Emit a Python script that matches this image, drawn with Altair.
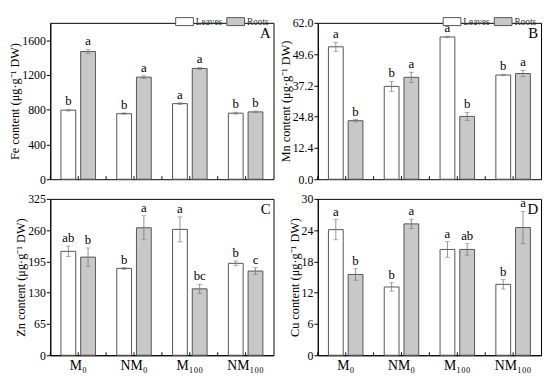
import altair as alt
import pandas as pd

groups = ["M₀", "NM₀", "M₁₀₀", "NM₁₀₀"]
tissues = ["Leaves", "Roots"]

fe_leaves = [795, 755, 870, 760]
fe_leaves_err = [10, 8, 10, 10]
fe_roots = [1470, 1175, 1275, 775]
fe_roots_err = [25, 15, 12, 10]
fe_leaves_let = ["b", "b", "a", "b"]
fe_roots_let = ["a", "a", "a", "b"]

mn_leaves = [52.5, 36.8, 56.4, 41.3]
mn_leaves_err = [1.8, 2.0, 0.3, 0.3]
mn_roots = [23.2, 40.4, 24.9, 41.9]
mn_roots_err = [0.5, 2.0, 1.6, 1.3]
mn_leaves_let = ["a", "b", "a", "b"]
mn_roots_let = ["b", "a", "b", "a"]

zn_leaves = [216, 180.5, 261.6, 191]
zn_leaves_err = [11, 2, 26, 5]
zn_roots = [204, 265, 138, 175]
zn_roots_err = [19, 25, 9.5, 7]
zn_leaves_let = ["ab", "b", "a", "b"]
zn_roots_let = ["b", "a", "bc", "c"]

cu_leaves = [24.1, 13.1, 20.3, 13.6]
cu_leaves_err = [1.95, 0.8, 1.5, 0.9]
cu_roots = [15.5, 25.2, 20.3, 24.5]
cu_roots_err = [1.1, 0.9, 1.1, 3.1]
cu_leaves_let = ["a", "b", "a", "b"]
cu_roots_let = ["b", "a", "ab", "a"]

FONT = "Liberation Serif"
W, H = 227, 159
FILL = "#c8c8c8"
LEG_PATH = "M-1,-0.45L1,-0.45L1,0.45L-1,0.45Z"


def panel(lv, le, rv, re, ll, rl, dom, ticks, fmt, title, letter, show_x, show_legend):
    rows = []
    for i, g in enumerate(groups):
        rows.append(dict(group=g, tissue="Leaves", value=lv[i], lo=lv[i] - le[i], hi=lv[i] + le[i], letter=ll[i]))
        rows.append(dict(group=g, tissue="Roots", value=rv[i], lo=rv[i] - re[i], hi=rv[i] + re[i], letter=rl[i]))
    df = pd.DataFrame(rows)
    base = alt.Chart(df)

    if show_x:
        xaxis = alt.Axis(title=None, labelAngle=0, ticks=False, labelFont=FONT, labelFontSize=14,
                         labelColor="black", domainColor="black", labelPadding=3)
    else:
        xaxis = None
    x = alt.X("group:N", sort=groups, scale=alt.Scale(paddingInner=0, paddingOuter=0), axis=xaxis)
    xo = alt.XOffset("tissue:N", sort=tissues, scale=alt.Scale(paddingInner=0.25, paddingOuter=0.54))

    yaxis = alt.Axis(values=ticks, format=fmt, title=title, grid=False, tickSize=4, tickColor="black",
                     domainColor="black", labelFont=FONT, labelFontSize=12, labelColor="black",
                     labelPadding=1, titleFont=FONT, titleFontSize=12.5, titleFontWeight="normal",
                     titleColor="black", titlePadding=0)

    def ych(field):
        return alt.Y(field, type="quantitative", scale=alt.Scale(domain=dom, nice=False, zero=True), axis=yaxis)

    if show_legend:
        leg = alt.Legend(title=None, orient="none", direction="horizontal", legendX=127, legendY=-11,
                         symbolType=LEG_PATH, symbolSize=324, symbolStrokeColor="#555",
                         symbolStrokeWidth=1, labelFont=FONT, labelFontSize=9.5, labelColor="#333",
                         columnPadding=2, labelOffset=2, padding=0)
    else:
        leg = None
    fill = alt.Fill("tissue:N", sort=tissues,
                    scale=alt.Scale(domain=tissues, range=["white", FILL]), legend=leg)

    bars = base.mark_bar(stroke="#555", strokeWidth=1).encode(x=x, xOffset=xo, y=ych("value"), fill=fill)
    err = base.mark_rule(color="#777", strokeWidth=0.8).encode(x=x, xOffset=xo, y=ych("lo"), y2="hi:Q")
    cap_hi = base.mark_tick(color="#777", size=5, thickness=0.8, orient="horizontal").encode(
        x=x, xOffset=xo, y=ych("hi"))
    cap_lo = base.mark_tick(color="#777", size=5, thickness=0.8, orient="horizontal").encode(
        x=x, xOffset=xo, y=ych("lo"))
    txt = base.mark_text(font=FONT, fontSize=13, baseline="bottom", dy=-1, color="black").encode(
        x=x, xOffset=xo, y=ych("hi"), text="letter:N")

    gdf = pd.DataFrame({"group": groups})
    tick_c = alt.Chart(gdf).mark_rule(color="black").encode(
        x=alt.X("group:N", sort=groups, bandPosition=0.5), y=alt.value(H), y2=alt.value(H - 3))
    tick_b = alt.Chart(gdf).mark_rule(color="black").encode(
        x=alt.X("group:N", sort=groups, bandPosition=0), y=alt.value(H), y2=alt.value(H - 3))

    lab = alt.Chart(pd.DataFrame({"t": [letter]})).mark_text(
        font=FONT, fontSize=15, align="right", baseline="top", color="black").encode(
        text="t:N", x=alt.value(W - 3), y=alt.value(3))

    return alt.layer(bars, err, cap_hi, cap_lo, txt, tick_c, tick_b, lab).properties(width=W, height=H)


A = panel(fe_leaves, fe_leaves_err, fe_roots, fe_roots_err, fe_leaves_let, fe_roots_let,
          [0, 1800], [0, 400, 800, 1200, 1600], "d", "Fe content (μg·g⁻¹ DW)", "A", False, True)
B = panel(mn_leaves, mn_leaves_err, mn_roots, mn_roots_err, mn_leaves_let, mn_roots_let,
          [0, 62], [0, 12.4, 24.8, 37.2, 49.6, 62.0], ".1f", "Mn content (μg·g⁻¹ DW)", "B", False, True)
C = panel(zn_leaves, zn_leaves_err, zn_roots, zn_roots_err, zn_leaves_let, zn_roots_let,
          [0, 325], [0, 65, 130, 195, 260, 325], "d", "Zn content (μg·g⁻¹ DW)", "C", True, False)
D = panel(cu_leaves, cu_leaves_err, cu_roots, cu_roots_err, cu_leaves_let, cu_roots_let,
          [0, 30], [0, 6, 12, 18, 24, 30], "d", "Cu content (μg·g⁻¹ DW)", "D", True, False)

chart = alt.concat(A, B, C, D, columns=2, spacing={"row": 20, "column": 45}, bounds="flush").resolve_scale(
    fill="independent", x="independent", y="independent").resolve_legend(fill="independent").configure_view(
    stroke="black", strokeWidth=1).properties(padding=0, background="white")

chart.save("out.html", embed_options={"renderer": "svg", "actions": False})
